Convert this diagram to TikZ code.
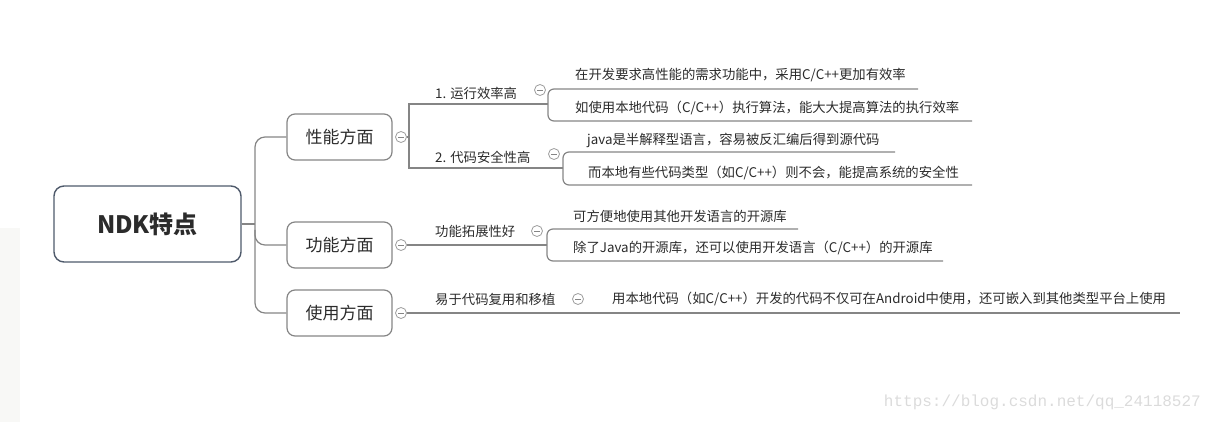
\documentclass[tikz,border=0pt]{standalone}
\usepackage{fontspec}
\setmainfont{Noto Sans CJK SC}
\newfontfamily\wmfont{Liberation Mono}
\definecolor{txt}{HTML}{2B2B2B}
\definecolor{ln}{HTML}{858585}
\definecolor{rootb}{HTML}{4F5A6B}
\definecolor{panel}{HTML}{F8F8F6}
\begin{document}
\begin{tikzpicture}[x=1pt,y=-1pt,
  conn/.style={draw=ln, line width=1.2pt},
  rootbox/.style={draw=rootb, line width=1.4pt, rounded corners=10pt, minimum width=187pt, minimum height=76pt, font=\fontsize{24}{28}\selectfont\bfseries, text=txt},
  mainbox/.style={draw=ln, line width=1.2pt, rounded corners=8pt, minimum width=105pt, minimum height=46pt, font=\fontsize{17}{20}\selectfont, text=txt},
  lbl/.style={anchor=west, inner sep=0pt, font=\fontsize{13.35}{15}\selectfont, text=txt},
  fold/.style={circle, draw=ln!80, line width=0.8pt, minimum size=11pt, inner sep=0pt, fill=white,
    path picture={\draw[ln, line width=0.8pt] ([xshift=-2.8pt]path picture bounding box.center) -- ([xshift=2.8pt]path picture bounding box.center);}},
]
\useasboundingbox (0,0) rectangle (1213,422);
\fill[panel] (0,228) rectangle (20,422);

% root and main topics
\node[rootbox] (root) at (147.5,224) {NDK特点};
\node[mainbox] (b1) at (339.5,137) {性能方面};
\node[mainbox] (b2) at (339.5,245) {功能方面};
\node[mainbox] (b3) at (339.5,313) {使用方面};

\coordinate (tj) at (255,224);
\draw[conn] (root.east) -- (tj);
\draw[conn, rounded corners=10pt] (b1.west) -| (255,200) |- (b3.west);
\draw[conn, rounded corners=10pt] (255,230) |- (b2.west);

% fold icons on main topics
\node[fold] (f1) at (401,137) {};
\node[fold] (f2) at (401,245) {};
\node[fold] (f3) at (401,313) {};

% group 1 : performance
\coordinate (j1) at (409,137);
\coordinate (j1a) at (409,104);
\coordinate (j1b) at (409,168);
\coordinate (k1) at (548,104);
\coordinate (k2) at (563,168);
\draw[conn] (f1.east) -- (j1);
\draw[conn] (k1) -- (j1a) -- (j1b) -- (k2);
\node[lbl] (p1) at (435,93) {1. 运行效率高};
\node[lbl] (p2) at (435,157) {2. 代码安全性高};
\node[fold] (g1) at (540,90) {};
\node[fold] (g2) at (554,154) {};

\node[lbl] (t1) at (575,75) {在开发要求高性能的需求功能中，采用C/C++更加有效率};
\node[lbl] (t2) at (575,108) {如使用本地代码（C/C++）执行算法，能大大提高算法的执行效率};
\coordinate (u1) at (918,89);
\coordinate (u2) at (972,121);
\draw[conn, rounded corners=6pt] (u1) -- (548,89) -- (548,121) -- (u2);

\node[lbl] (t3) at (587,140) {java是半解释型语言，容易被反汇编后得到源代码};
\node[lbl] (t4) at (588,173) {而本地有些代码类型（如C/C++）则不会，能提高系统的安全性};
\coordinate (u3) at (895,152);
\coordinate (u4) at (972,185);
\draw[conn, rounded corners=6pt] (u3) -- (563,152) -- (563,185) -- (u4);

% group 2 : function
\coordinate (k3) at (547,245);
\draw[conn] (f2.east) -- (k3);
\node[lbl] (p3) at (435,231) {功能拓展性好};
\node[fold] (g3) at (537,231) {};
\node[lbl] (t5) at (573,216) {可方便地使用其他开发语言的开源库};
\node[lbl] (t6) at (573,248) {除了Java的开源库，还可以使用开发语言（C/C++）的开源库};
\coordinate (u5) at (798,229);
\coordinate (u6) at (943,261);
\draw[conn, rounded corners=6pt] (u5) -- (547,229) -- (547,261) -- (u6);

% group 3 : usage
\coordinate (u7) at (1180,313);
\draw[conn] (f3.east) -- (u7);
\node[lbl] (p4) at (435,299) {易于代码复用和移植};
\node[fold] (g4) at (578,299) {};
\node[lbl] (t7) at (612,299) {用本地代码（如C/C++）开发的代码不仅可在Android中使用，还可嵌入到其他类型平台上使用};

% watermark
\node[font=\wmfont\fontsize{16}{16}\selectfont, text=black!14, anchor=east, inner sep=0pt] (wm) at (1201,402) {https://blog.csdn.net/qq\_24118527};
\end{tikzpicture}
\end{document}
